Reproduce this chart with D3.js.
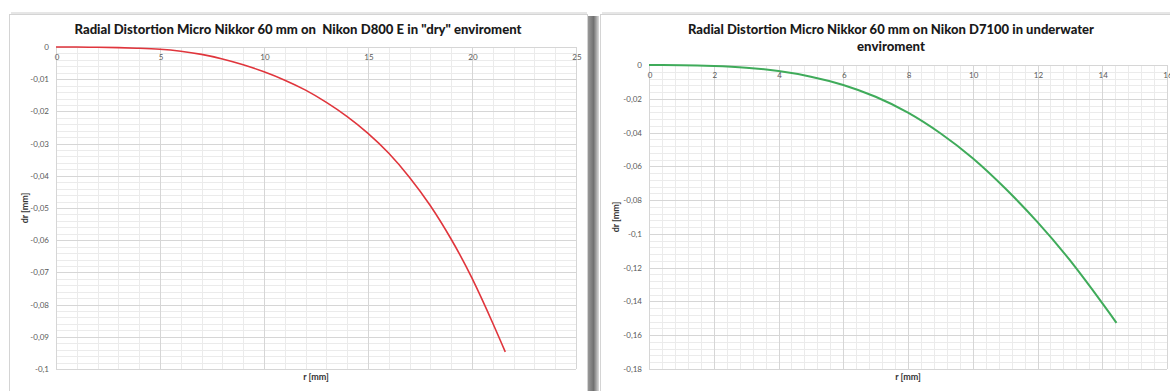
<!DOCTYPE html>
<html>
<head>
<meta charset="utf-8">
<script src="https://cdn.jsdelivr.net/npm/d3@7"></script>
<style>
  html, body { margin: 0; padding: 0; background: #fff; }
  svg { display: block; }
</style>
</head>
<body>
<svg id="chart" width="1170" height="391"></svg>
<script>
// --- data ---
const dryR  = [0, 1, 2, 3, 4, 5, 6, 7, 8, 9, 10, 11, 12, 13, 14, 15, 16, 17, 18, 19, 20, 21, 21.6];
const dryDr = [0, 0, -0.0001, -0.0002, -0.0004, -0.0007, -0.0013, -0.0023, -0.0037, -0.0055, -0.0077,
               -0.0103, -0.0134, -0.0172, -0.0216, -0.0268, -0.0330, -0.0405, -0.0493, -0.0597, -0.0718, -0.0858, -0.0947];

const waterR  = [0, 1, 2, 3, 4, 5, 6, 7, 8, 9, 10, 11, 12, 13, 14, 14.44];
const waterDr = [0, -0.0001, -0.0006, -0.0016, -0.0036, -0.0069, -0.0118, -0.0188, -0.0282, -0.0404,
                 -0.0552, -0.0730, -0.0930, -0.1156, -0.1410, -0.1527];

const dryXTicks = [0, 5, 10, 15, 20, 25];
const dryYTicks = [0, -0.01, -0.02, -0.03, -0.04, -0.05, -0.06, -0.07, -0.08, -0.09, -0.1];
const waterXTicks = [0, 2, 4, 6, 8, 10, 12, 14, 16];
const waterYTicks = [0, -0.02, -0.04, -0.06, -0.08, -0.1, -0.12, -0.14, -0.16, -0.18];

const dryTitle = ['Radial Distortion Micro Nikkor 60 mm on  Nikon D800 E in "dry" enviroment'];
const waterTitle = ['Radial Distortion Micro Nikkor 60 mm on Nikon D7100 in underwater', 'enviroment'];

const svg = d3.select("#chart");
const fmt = v => String(+v.toFixed(4)).replace(".", ",");

// shadow gradient between the cards
const defs = svg.append("defs");
const grad = defs.append("linearGradient").attr("id", "shadow").attr("x1", 0).attr("x2", 1);
grad.append("stop").attr("offset", "0%").attr("stop-color", "#a0a0a0");
grad.append("stop").attr("offset", "55%").attr("stop-color", "#707070");
grad.append("stop").attr("offset", "100%").attr("stop-color", "#dcdcdc");

svg.append("rect").attr("x", 587).attr("y", 16).attr("width", 12).attr("height", 380).attr("fill", "url(#shadow)");
svg.append("rect").attr("x", 11).attr("y", 12).attr("width", 576).attr("height", 3).attr("fill", "#e6e6e6");
svg.append("rect").attr("x", 602).attr("y", 12).attr("width", 580).attr("height", 3).attr("fill", "#e6e6e6");

function drawPanel(p) {
  // card
  svg.append("rect")
    .attr("x", p.card.x + 0.5).attr("y", p.card.y + 0.5)
    .attr("width", p.card.w).attr("height", p.card.h)
    .attr("fill", "#fff").attr("stroke", "#d4d4d4");

  const x = d3.scaleLinear().domain(p.xDomain).range([p.plot.x0, p.plot.x1]);
  const y = d3.scaleLinear().domain(p.yDomain).range([p.plot.y1, p.plot.y0]);
  const g = svg.append("g");

  // minor grid
  const xStep = (p.xTicks[1] - p.xTicks[0]) / p.xMinor;
  const yStep = (p.yTicks[0] - p.yTicks[1]) / p.yMinor;
  const xMinor = d3.range(p.xDomain[0], p.xDomain[1] + xStep / 2, xStep);
  const yMinor = d3.range(p.yDomain[0], p.yDomain[1] + yStep / 2, yStep);
  g.selectAll(".vminor").data(xMinor).join("line")
    .attr("x1", d => Math.round(x(d)) + 0.5).attr("x2", d => Math.round(x(d)) + 0.5)
    .attr("y1", p.plot.y0).attr("y2", p.plot.y1)
    .attr("stroke", "#ebebeb");
  g.selectAll(".hminor").data(yMinor).join("line")
    .attr("y1", d => Math.round(y(d)) + 0.5).attr("y2", d => Math.round(y(d)) + 0.5)
    .attr("x1", p.plot.x0).attr("x2", p.plot.x1)
    .attr("stroke", "#ebebeb");

  // major grid
  g.selectAll(".vmajor").data(p.xTicks).join("line")
    .attr("x1", d => Math.round(x(d)) + 0.5).attr("x2", d => Math.round(x(d)) + 0.5)
    .attr("y1", p.plot.y0).attr("y2", p.plot.y1)
    .attr("stroke", "#d6d6d6");
  g.selectAll(".hmajor").data(p.yTicks).join("line")
    .attr("y1", d => Math.round(y(d)) + 0.5).attr("y2", d => Math.round(y(d)) + 0.5)
    .attr("x1", p.plot.x0).attr("x2", p.plot.x1)
    .attr("stroke", "#d6d6d6");

  // tick labels
  g.selectAll(".xlab").data(p.xTicks).join("text")
    .attr("x", d => x(d) + 1).attr("y", y(0) + 13)
    .attr("text-anchor", "middle")
    .attr("font-family", "Lato, 'Open Sans', sans-serif").attr("font-size", 8)
    .attr("fill", "#5a5a5a")
    .text(d => fmt(d));
  g.selectAll(".ylab").data(p.yTicks).join("text")
    .attr("x", p.plot.x0 - 7).attr("y", d => y(d) + 3)
    .attr("text-anchor", "end")
    .attr("font-family", "Lato, 'Open Sans', sans-serif").attr("font-size", 8)
    .attr("fill", "#5a5a5a")
    .text(d => fmt(d));

  // axis titles
  g.append("text")
    .attr("x", (p.plot.x0 + p.plot.x1) / 2).attr("y", p.plot.y1 + 11)
    .attr("text-anchor", "middle")
    .attr("font-family", "Lato, 'Open Sans', sans-serif").attr("font-size", 9).attr("font-weight", "bold")
    .attr("fill", "#333")
    .text("r [mm]");
  g.append("text")
    .attr("transform", `translate(${p.yTitleX},${(p.plot.y0 + p.plot.y1) / 2}) rotate(-90)`)
    .attr("text-anchor", "middle")
    .attr("font-family", "Lato, 'Open Sans', sans-serif").attr("font-size", 9).attr("font-weight", "bold")
    .attr("fill", "#333")
    .text("dr [mm]");

  // title
  p.title.forEach((t, i) => {
    g.append("text")
      .attr("x", p.titleX).attr("y", 34 + i * 17)
      .attr("text-anchor", "middle")
      .attr("xml:space", "preserve")
      .style("white-space", "pre")
      .attr("font-family", "Lato, 'Open Sans', sans-serif").attr("font-size", 12.8).attr("font-weight", 900)
      .attr("fill", "#1a1a1a")
      .attr("textLength", p.titleW[i]).attr("lengthAdjust", "spacingAndGlyphs")
      .text(t);
  });

  // curve
  const pts = p.rs.map((r, i) => [r, p.drs[i]]);
  g.append("path")
    .datum(pts)
    .attr("fill", "none")
    .attr("stroke", p.color)
    .attr("stroke-width", p.width)
    .attr("stroke-linejoin", "round")
    .attr("d", d3.line().x(d => x(d[0])).y(d => y(d[1])).curve(d3.curveNatural));
}

drawPanel({
  card: { x: 9, y: 14, w: 578, h: 400 },
  plot: { x0: 56, x1: 576, y0: 47, y1: 369 },
  xDomain: [0, 25], yDomain: [-0.1, 0],
  xTicks: dryXTicks, yTicks: dryYTicks, xMinor: 5, yMinor: 5,
  rs: dryR, drs: dryDr, color: "#e0353c", width: 1.6,
  title: dryTitle, titleW: [447], titleX: 298, yTitleX: 28
});

drawPanel({
  card: { x: 600, y: 14, w: 600, h: 400 },
  plot: { x0: 649, x1: 1167, y0: 65, y1: 369 },
  xDomain: [0, 16], yDomain: [-0.18, 0],
  xTicks: waterXTicks, yTicks: waterYTicks, xMinor: 5, yMinor: 5,
  rs: waterR, drs: waterDr, color: "#3fab5a", width: 2,
  title: waterTitle, titleW: [406, 68], titleX: 891, yTitleX: 619
});
</script>
</body>
</html>
